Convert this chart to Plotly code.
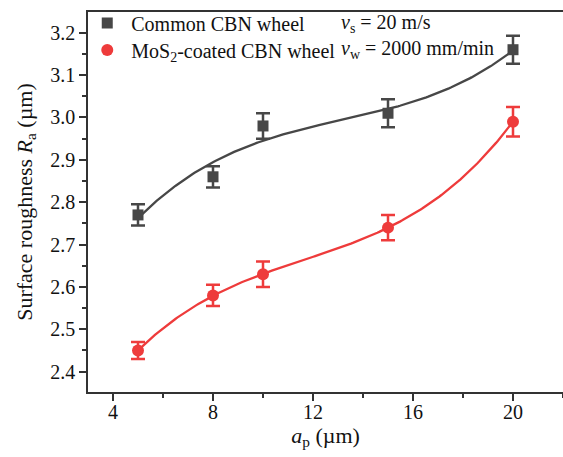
import numpy as np
import plotly.graph_objects as go

# Depth of cut a_p (µm)
ap = [5, 8, 10, 15, 20]

# Surface roughness Ra (µm) with error bars
ra_common = [2.77, 2.86, 2.98, 3.01, 3.16]
err_common = [0.025, 0.025, 0.03, 0.033, 0.033]
ra_mos2 = [2.45, 2.58, 2.63, 2.74, 2.99]
err_mos2 = [0.02, 0.025, 0.03, 0.03, 0.035]

x_ticks = [4, 8, 12, 16, 20]
y_ticks = [2.4, 2.5, 2.6, 2.7, 2.8, 2.9, 3.0, 3.1, 3.2]

GREY = "#474747"
RED = "#EE3B3B"
FONT = "Liberation Serif, Times New Roman, serif"

fig = go.Figure()

# Cubic polynomial fit curves through each series
xs = np.linspace(min(ap), max(ap), 200)
for ys, col in [(ra_common, GREY), (ra_mos2, RED)]:
    coef = np.polyfit(ap, ys, 3)
    fig.add_trace(go.Scatter(x=xs, y=np.polyval(coef, xs), mode="lines",
                             line=dict(color=col, width=2.3),
                             showlegend=False, hoverinfo="skip"))

fig.add_trace(go.Scatter(
    x=ap, y=ra_common, mode="markers", name="Common CBN wheel", legend="legend",
    marker=dict(symbol="square", size=11, color=GREY),
    error_y=dict(type="data", array=err_common, color=GREY, thickness=2.5, width=7),
))
fig.add_trace(go.Scatter(
    x=ap, y=ra_mos2, mode="markers", name="MoS<sub>2</sub>-coated CBN wheel", legend="legend2",
    marker=dict(symbol="circle", size=12, color=RED),
    error_y=dict(type="data", array=err_mos2, color=RED, thickness=2.5, width=7),
))

# Process conditions
fig.add_annotation(x=0.528, y=0.971, xref="paper", yref="paper", xanchor="left", yanchor="middle",
                   text="<i>v</i><sub>s</sub> = 20 m/s", showarrow=False,
                   font=dict(family=FONT, size=20, color="#111"))
fig.add_annotation(x=0.528, y=0.9, xref="paper", yref="paper", xanchor="left", yanchor="middle",
                   text="<i>v</i><sub>w</sub> = 2000 mm/min", showarrow=False,
                   font=dict(family=FONT, size=20, color="#111"))

axis_common = dict(
    showline=True, linecolor="#333", linewidth=1.5,
    ticks="outside", tickcolor="#333", tickwidth=1.5, ticklen=7,
    showgrid=False, zeroline=False,
    tickfont=dict(family=FONT, size=20, color="#111"),
)

legend_style = dict(xanchor="left", yanchor="middle", bgcolor="rgba(0,0,0,0)",
                    font=dict(family=FONT, size=20, color="#111"), itemwidth=38)

fig.update_layout(
    width=563, height=457,
    margin=dict(l=88, r=0, t=12, b=65),
    plot_bgcolor="white", paper_bgcolor="white",
    font=dict(family=FONT, color="#111"),
    legend=dict(x=-0.01, y=0.971, **legend_style),
    legend2=dict(x=-0.01, y=0.9, **legend_style),
    xaxis=dict(
        **axis_common, range=[3, 22], tickvals=x_ticks, mirror=True,
        ticklabelstandoff=-6,
        minor=dict(dtick=2, tick0=0, ticks="outside", ticklen=4, tickcolor="#333", tickwidth=1.5),
        title=dict(text="<i>a</i><sub>p</sub> (µm)", font=dict(family=FONT, size=22), standoff=2),
    ),
    yaxis=dict(
        **axis_common, range=[2.352, 3.249], tickvals=y_ticks, tickformat=".1f",
        minor=dict(dtick=0.05, tick0=0, ticks="outside", ticklen=4, tickcolor="#333", tickwidth=1.5),
        title=dict(text="Surface roughness <i>R</i><sub>a</sub> (µm)", font=dict(family=FONT, size=22), standoff=12),
    ),
)

fig.write_html("out.html")
